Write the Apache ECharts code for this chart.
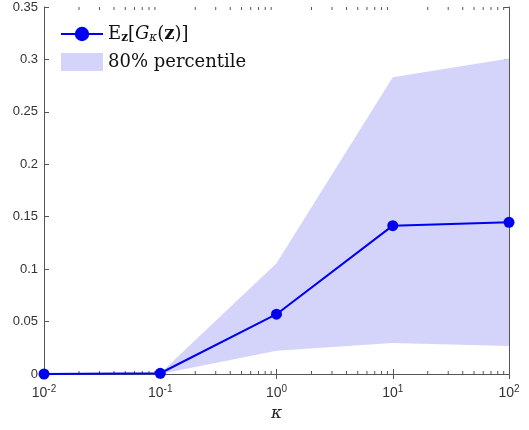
<!DOCTYPE html>
<html><head><meta charset="utf-8">
<script src="https://cdn.jsdelivr.net/npm/echarts@6/dist/echarts.min.js"></script>
<style>html,body{margin:0;padding:0;background:#fff}#c{width:529px;height:430px}</style>
</head><body><div id="c"></div>
<script>
var kappa = [0.01, 0.1, 1, 10, 100];
var meanVals = [0, 0.0007, 0.057, 0.1415, 0.1447];
var bandKappa = [0.1, 1, 10, 100];
var lowerVals = [0, 0.0222, 0.0295, 0.0267];
var upperVals = [0.0007, 0.1056, 0.283, 0.301];
var minorX = [];
[0.01, 0.1, 1, 10].forEach(function (d) { for (var m = 2; m <= 9; m++) minorX.push(d * m); });

var chart = echarts.init(document.getElementById('c'));
var axisCol = '#555';
var bandColor = '#d4d4fa';
var lineColor = '#0000f0';

function expLabel(v) {
  var e = Math.round(Math.log10(v));
  return '{b|10}{s|' + e + '}';
}
var xRich = {
  b: { fontFamily: 'Liberation Sans, Arial', fontSize: 14, color: '#333' },
  s: { fontFamily: 'Liberation Sans, Arial', fontSize: 10, color: '#333', padding: [0, 0, 9, 0] }
};

function minorTickSeries(top) {
  return {
    type: 'custom', silent: true, z: 5, xAxisIndex: 0, yAxisIndex: 0,
    data: minorX.map(function (x) { return [x]; }),
    encode: { x: 0 },
    renderItem: function (params, api) {
      var p = api.coord([api.value(0), top ? 0.35 : 0]);
      var len = 3;
      return { type: 'line', shape: { x1: p[0], y1: p[1], x2: p[0], y2: top ? p[1] + len : p[1] - len },
        style: { stroke: axisCol, lineWidth: 1 } };
    }
  };
}

// band polygon: upper edge forward, lower edge backward
var bandData = bandKappa.map(function (k, i) { return [k, lowerVals[i], upperVals[i]]; });

var option = {
  animation: false,
  grid: { left: 44, right: 20, top: 7, bottom: 56 },
  legend: {
    left: 55, top: 20, orient: 'vertical', itemGap: 9, itemWidth: 42, itemHeight: 18,
    data: [
      { name: 'mean' },
      { name: 'band', icon: 'rect', itemStyle: { color: bandColor } }
    ],
    formatter: function (n) {
      if (n === 'mean') return '{r|E}{sb|z}{r|[}{i|G}{sub|κ}{r|(}{bz|z}{r|)]}';
      return '{r|80% percentile}';
    },
    textStyle: {
      rich: {
        r: { fontFamily: 'DejaVu Serif, serif', fontSize: 18, color: '#111' },
        i: { fontFamily: 'DejaVu Serif, serif', fontStyle: 'italic', fontSize: 18, color: '#111' },
        bz: { fontFamily: 'DejaVu Serif, serif', fontWeight: 'bold', fontSize: 18, color: '#111' },
        sb: { fontFamily: 'DejaVu Serif, serif', fontWeight: 'bold', fontSize: 12, color: '#111', padding: [8, 0, 0, 0] },
        sub: { fontFamily: 'DejaVu Serif, serif', fontStyle: 'italic', fontSize: 12, color: '#111', padding: [8, 0, 0, 0] }
      }
    }
  },
  xAxis: [{
    type: 'log', logBase: 10, min: 0.01, max: 100,
    name: 'κ', nameLocation: 'middle', nameGap: 31,
    nameTextStyle: { fontFamily: 'DejaVu Serif, serif', fontStyle: 'italic', fontSize: 17, color: '#222' },
    axisLine: { lineStyle: { color: axisCol } },
    axisTick: { inside: true, length: 5, lineStyle: { color: axisCol } },
    axisLabel: { margin: 10, formatter: expLabel, rich: xRich },
    splitLine: { show: false }
  }, {
    type: 'log', logBase: 10, min: 0.01, max: 100, position: 'top',
    axisLine: { lineStyle: { color: axisCol } },
    axisTick: { inside: true, length: 5, lineStyle: { color: axisCol } },
    axisLabel: { show: false }, splitLine: { show: false }
  }],
  yAxis: [{
    type: 'value', min: 0, max: 0.35, interval: 0.05,
    axisLine: { show: true, lineStyle: { color: axisCol } },
    axisTick: { show: true, inside: true, length: 5, lineStyle: { color: axisCol } },
    axisLabel: { margin: 6, fontFamily: 'Liberation Sans, Arial', fontSize: 13, color: '#333',
      formatter: function (v) { return String(+v.toFixed(2)); } },
    splitLine: { show: false }
  }, {
    type: 'value', min: 0, max: 0.35, interval: 0.05, position: 'right',
    axisLine: { show: true, lineStyle: { color: axisCol } },
    axisTick: { show: true, inside: true, length: 5, lineStyle: { color: axisCol } },
    axisLabel: { show: false }, splitLine: { show: false }
  }],
  series: [
    { name: 'band', type: 'custom', silent: true, z: 1,
      itemStyle: { color: bandColor },
      data: bandData,
      encode: { x: 0, y: [1, 2] },
      renderItem: function (params, api) {
        if (params.dataIndex !== 0) return null;
        var up = [], lo = [];
        for (var i = 0; i < bandData.length; i++) {
          up.push(api.coord([bandData[i][0], bandData[i][2]]));
          lo.unshift(api.coord([bandData[i][0], bandData[i][1]]));
        }
        return { type: 'polygon', shape: { points: up.concat(lo) }, style: { fill: bandColor } };
      }
    },
    { name: 'mean', type: 'line', symbol: 'circle', symbolSize: 11,
      data: kappa.map(function (k, i) { return [k, meanVals[i]]; }),
      lineStyle: { color: lineColor, width: 2 }, itemStyle: { color: lineColor }, z: 10 },
    minorTickSeries(false),
    minorTickSeries(true)
  ]
};
chart.setOption(option);
</script>
</body></html>
